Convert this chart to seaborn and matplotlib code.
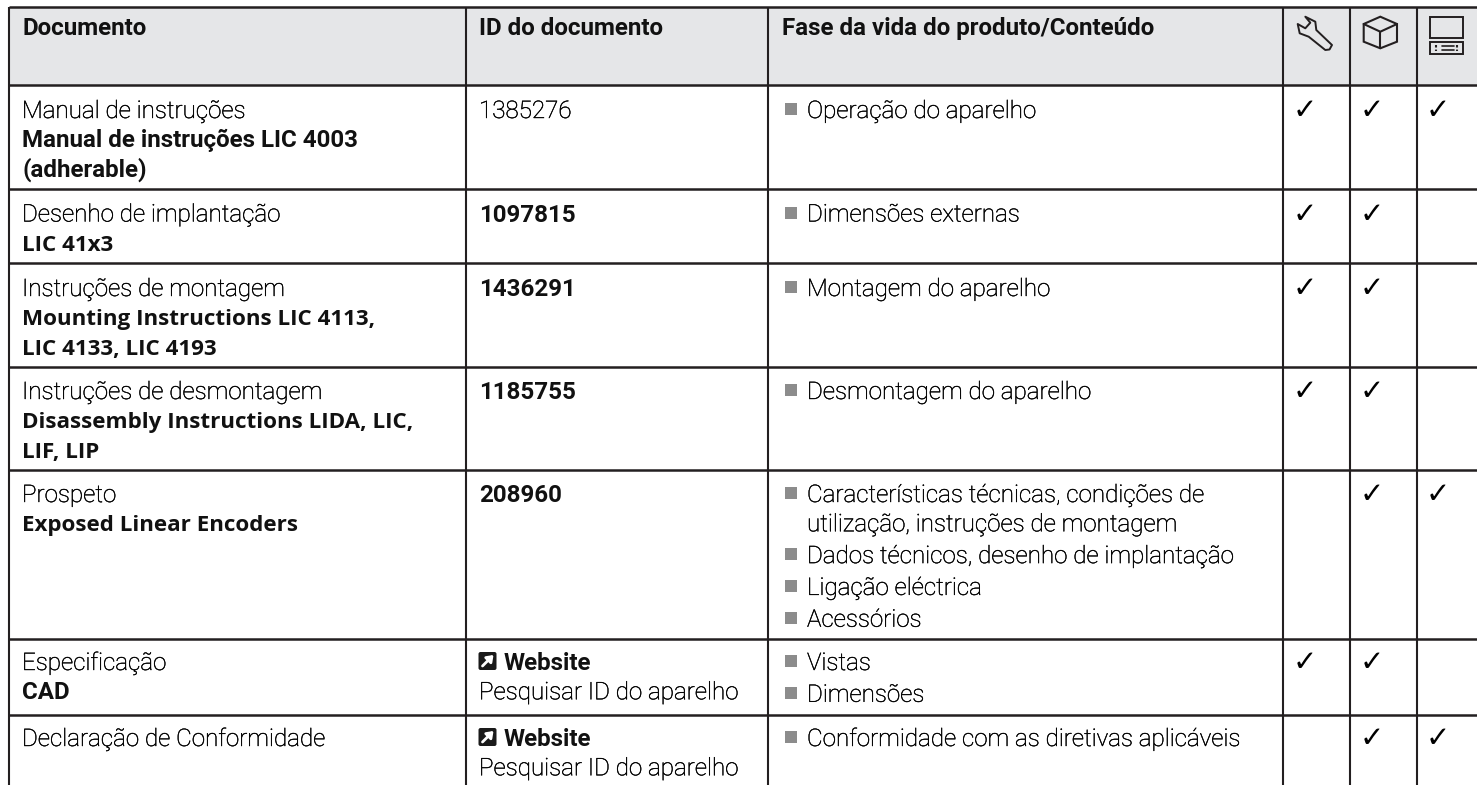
import matplotlib
matplotlib.use("Agg")
import matplotlib.pyplot as plt
import matplotlib.patches as mpatches
import matplotlib.patheffects as pe
import pandas as pd
import seaborn as sns

# Table content
headers = ["Documento", "ID do documento", "Fase da vida do produto/Conteúdo"]
doc_type = ["Manual de instruções", "Desenho de implantação", "Instruções de montagem",
            "Instruções de desmontagem", "Prospeto", "Especificação", "Declaração de Conformidade"]
doc_name = [["Manual de instruções LIC 4003", "(adherable)"],
            ["LIC 41x3"],
            ["Mounting Instructions LIC 4113,", "LIC 4133, LIC 4193"],
            ["Disassembly Instructions LIDA, LIC,", "LIF, LIP"],
            ["Exposed Linear Encoders"],
            ["CAD"],
            []]
name_open_sans = [False, True, True, True, True, False, False]
doc_id = ["1385276", "1097815", "1436291", "1185755", "208960", "Website", "Website"]
id_bold = [False, True, True, True, True, True, True]
content = [[["Operação do aparelho"]],
           [["Dimensões externas"]],
           [["Montagem do aparelho"]],
           [["Desmontagem do aparelho"]],
           [["Características técnicas, condições de", "utilização, instruções de montagem"],
            ["Dados técnicos, desenho de implantação"],
            ["Ligação eléctrica"],
            ["Acessórios"]],
           [["Vistas"], ["Dimensões"]],
           [["Conformidade com as diretivas aplicáveis"]]]
check_tool = [1, 1, 1, 1, 0, 1, 0]
check_box = [1, 1, 1, 1, 1, 1, 1]
check_screen = [1, 0, 0, 0, 1, 0, 1]
search_note = "Pesquisar ID do aparelho"

# Layout in pixels
W, H = 1477, 785
col_x = [8.5, 465.5, 768, 1283, 1350, 1417]
row_y = [7, 85, 188.5, 263, 367, 470, 639, 715]
first_base = [33, 33, 33, 32, 32, 31, 31]
check_dx = [22, 22, 21]
line_h = 29.3
item_gap = 2.5
dark = "#231f20"

sns.set_theme(style="white")
plt.rcParams["font.family"] = ["Roboto", "DejaVu Sans"]

fig, ax = plt.subplots(figsize=(W / 100, H / 100), dpi=100)
fig.subplots_adjust(0, 0, 1, 1)
ax.set_xlim(0, W)
ax.set_ylim(H, 0)
ax.axis("off")

ax.add_patch(mpatches.Rectangle((col_x[0], row_y[0]), W - col_x[0], row_y[1] - row_y[0],
                                fc="#e5e6e8", ec="none", zorder=0))
for y in row_y:
    ax.plot([col_x[0], W], [y, y], color=dark, lw=1.8, zorder=3, solid_capstyle="butt")
for x in col_x:
    ax.plot([x, x], [row_y[0], H], color=dark, lw=1.5, zorder=3, solid_capstyle="butt")

thicker = [pe.withStroke(linewidth=0.3, foreground="#000000")]
REG = dict(fontsize=17.4, color="#000000", fontweight="light", path_effects=thicker)
BOLD = dict(fontsize=17.4, color="#111111", fontweight="bold")
BOLD_OPEN = dict(fontsize=16.1, color="#111111", fontweight="bold", family="Open Sans")

for i, h in enumerate(headers):
    ax.text(col_x[i] + 13.5, row_y[0] + 28, h, **BOLD)

bullets = []
for r in range(7):
    top = row_y[r + 1]
    base = top + first_base[r]
    ax.text(col_x[0] + 13.5, base, doc_type[r], **REG)
    for k, line in enumerate(doc_name[r]):
        ax.text(col_x[0] + 13.5, base + line_h * (k + 1), line, **(BOLD_OPEN if name_open_sans[r] else BOLD))

    if doc_id[r] == "Website":
        ax.text(col_x[1] + 38, base, doc_id[r], **BOLD)
        ax.add_patch(mpatches.FancyBboxPatch((col_x[1] + 13, base - 18), 18, 18,
                                             boxstyle="round,pad=0,rounding_size=2",
                                             fc="#1a1a1a", ec="none"))
        ax.annotate("", xy=(col_x[1] + 28, base - 15), xytext=(col_x[1] + 17, base - 4),
                    arrowprops=dict(arrowstyle="-|>,head_width=0.22,head_length=0.3", color="white", lw=2,
                                    shrinkA=0, shrinkB=0))
        ax.text(col_x[1] + 13.5, base + line_h, search_note, **REG)
    else:
        ax.text(col_x[1] + 13.5, base, doc_id[r], **(BOLD if id_bold[r] else REG))

    y = base
    for item in content[r]:
        bullets.append((col_x[2] + 23, y - 9))
        for line in item:
            ax.text(col_x[2] + 39, y, line, **REG)
            y += line_h
        y += item_gap

    for c, flags in enumerate([check_tool, check_box, check_screen]):
        if flags[r]:
            ax.text(col_x[3 + c] + check_dx[c], base + 1, "\u2713", fontsize=21, color="black", ha="center",
                    family="DejaVu Sans", fontweight="bold")

bullet_df = pd.DataFrame(bullets, columns=["x", "y"])
sns.scatterplot(data=bullet_df, x="x", y="y", marker="s", s=72, color="#8c8c8c", linewidth=0, ax=ax,
                legend=False)
ax.set_xlim(0, W)
ax.set_ylim(H, 0)
ax.axis("off")

# Wrench icon
wrench = [(1297.7, 24), (1299.7, 33.3), (1308.7, 36.7), (1325.3, 50), (1329.5, 49.5), (1332, 45), (1316.3, 30),
          (1315.3, 21.7), (1305.3, 16.7), (1310.3, 22.7), (1305.3, 28.3)]
ax.add_patch(mpatches.Polygon(wrench, closed=True, fc="none", ec=dark, lw=1.4, joinstyle="round"))

# Cube icon
ax.add_patch(mpatches.Polygon([(1380.3, 16.7), (1397, 24), (1397, 41.7), (1380.3, 48.3), (1363.7, 41.7), (1363.7, 24)],
                              closed=True, fc="none", ec=dark, lw=1.5))
ax.plot([1363.7, 1380.3, 1397], [24, 31.7, 24], color=dark, lw=1.5)
ax.plot([1380.3, 1380.3], [31.7, 48.3], color=dark, lw=1.5)

# Screen icon
ax.add_patch(mpatches.Rectangle((1430, 17), 33, 21, fc="none", ec=dark, lw=1.4))
ax.add_patch(mpatches.Rectangle((1430, 42), 33, 12, fc="none", ec=dark, lw=1.4))
ax.plot([1442, 1454], [46, 46], color=dark, lw=1.2)
ax.plot([1442, 1454], [50, 50], color=dark, lw=1.2)
ax.plot([1436, 1436], [45, 51], color=dark, lw=1.5, ls=(0, (1.2, 1)))
ax.plot([1457, 1457], [45, 51], color=dark, lw=1.5, ls=(0, (1.2, 1)))

fig.savefig("out.png", dpi=100)
